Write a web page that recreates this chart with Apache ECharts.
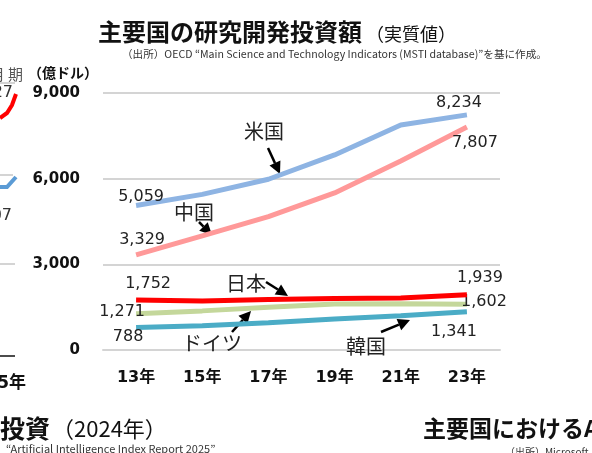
<!DOCTYPE html>
<html><head><meta charset="utf-8">
<script src="https://cdn.jsdelivr.net/npm/echarts@6/dist/echarts.min.js"></script>
<style>html,body{margin:0;padding:0;background:#fff}#c{width:592px;height:453px}</style>
</head><body><div id="c"></div>
<script>
const categories = ['13年','15年','17年','19年','21年','23年'];
const usValues      = [5059, 5450, 5980, 6830, 7880, 8234];
const chinaValues   = [3329, 4000, 4670, 5500, 6620, 7807];
const japanValues   = [1752, 1720, 1770, 1800, 1820, 1939];
const germanyValues = [1271, 1370, 1500, 1610, 1620, 1602];
const koreaValues   = [788, 850, 955, 1085, 1200, 1341];
const seriesNames = ['米国','中国','日本','ドイツ','韓国'];
const yMin = 0, yMax = 9000, yStep = 3000;

const NUM = "'DejaVu Sans','Noto Sans CJK JP'";
const JP = "'Noto Sans CJK JP','DejaVu Sans'";

function line(name, values, color, firstOff, lastOff, z){
  const last = values.length - 1;
  return {
    name, type:'line', data: values,
    symbol:'circle', symbolSize:2, showSymbol:true, z,
    itemStyle:{color:'rgba(0,0,0,0)', borderWidth:0},
    lineStyle:{color, width:5},
    label:{show:true, position:'inside', align:'center', verticalAlign:'middle',
      color:'#222', fontFamily:NUM, fontSize:16,
      formatter:p=>(p.dataIndex===0||p.dataIndex===last)?Number(p.value).toLocaleString('en-US'):''},
    labelLayout:p=>{
      const o = p.dataIndex===0 ? firstOff : (p.dataIndex===last ? lastOff : [0,0]);
      return {dx:o[0], dy:o[1], hideOverlap:false};
    },
    emphasis:{disabled:true}, animation:false
  };
}
function arrow(x1,y1,x2,y2){
  const dx=x2-x1, dy=y2-y1, L=Math.hypot(dx,dy), ux=dx/L, uy=dy/L;
  const hl=12, hw=6;
  const bx=x2-ux*hl, by=y2-uy*hl;
  return {type:'group', z:20, children:[
    {type:'line', shape:{x1,y1,x2:bx,y2:by}, style:{stroke:'#000', lineWidth:2.5}},
    {type:'polygon', shape:{points:[[x2,y2],[bx-uy*hw,by+ux*hw],[bx+uy*hw,by-ux*hw]]}, style:{fill:'#000'}}
  ]};
}
function txt(text,x,y,opts){
  return {type:'text', x, y, z:20, style:Object.assign({text, fill:'#222', font:"20px "+JP, textAlign:'center', textVerticalAlign:'middle'}, opts||{})};
}

const chart = echarts.init(document.getElementById('c'), null, {renderer:'canvas'});
chart.setOption({
  backgroundColor:'#fff',
  animation:false,
  grid:{left:103, right:92, top:93, bottom:103},
  xAxis:{type:'category', data:categories, boundaryGap:true,
    axisLine:{show:true, lineStyle:{color:'#d4d4d4', width:2}}, axisTick:{show:false},
    axisLabel:{color:'#111', fontFamily:NUM, fontWeight:'bold', fontSize:16, margin:20}},
  yAxis:{type:'value', min:yMin, max:yMax, interval:yStep,
    axisLine:{show:false}, axisTick:{show:false},
    splitLine:{lineStyle:{color:'#d4d4d4', width:2}},
    axisLabel:{color:'#111', fontFamily:NUM, fontWeight:'bold', fontSize:15, margin:23,
      formatter:v=>Number(v).toLocaleString('en-US')}},
  series:[
    line(seriesNames[4], koreaValues, '#4BACC6', [-8,9], [-13,20], 2),
    line(seriesNames[3], germanyValues, '#C4D79B', [-14,-2], [17,-2], 3),
    line(seriesNames[2], japanValues, '#FF0000', [12,-16], [13,-17], 4),
    line(seriesNames[1], chinaValues, '#FF9999', [6,-15], [8,16], 5),
    line(seriesNames[0], usValues, '#8EB4E3', [5,-9], [-8,-12], 6)
  ],
  graphic:[
    txt('主要国の研究開発投資額', 98, 32, {font:"bold 24px "+JP, textAlign:'left', fill:'#111'}),
    txt('（実質値）', 366, 34, {font:"18px "+JP, textAlign:'left', fill:'#111'}),
    txt('（出所）OECD “Main Science and Technology Indicators (MSTI database)”を基に作成。', 122, 54, {font:"10.6px "+JP, textAlign:'left', fill:'#333'}),
    txt('（億ドル）', 28, 73, {font:"bold 14px "+JP, textAlign:'left', fill:'#111'}),
    // annotations
    txt('米国', 264, 131), arrow(268,148,280,174),
    txt('中国', 194, 212), arrow(199,222,212,235),
    txt('日本', 246, 283), arrow(266,282,288,296),
    txt('ドイツ', 212, 343), arrow(232,332,251,311),
    txt('韓国', 366, 346), arrow(381,332,410,320),
    // neighbouring fragments (left)
    txt('月 期', 23, 74, {font:"15px "+JP, textAlign:'right', fill:'#555'}),
    {type:'line', shape:{x1:0,y1:83,x2:15,y2:83}, style:{stroke:'#d4d4d4', lineWidth:2}},
    txt('27', 13, 93, {font:"16px "+NUM, textAlign:'right', fill:'#333'}),
    {type:'polyline', shape:{points:[[0,118],[7,113],[12,105],[16,94]]}, style:{stroke:'#FF0000', lineWidth:4, fill:null}},
    {type:'line', shape:{x1:0,y1:175,x2:13,y2:175}, style:{stroke:'#d4d4d4', lineWidth:2}},
    {type:'polyline', shape:{points:[[0,187],[7,187],[16,177]]}, style:{stroke:'#5B9BD5', lineWidth:4, fill:null}},
    txt('07', 12, 216, {font:"16px "+NUM, textAlign:'right', fill:'#333'}),
    {type:'line', shape:{x1:0,y1:264,x2:15,y2:264}, style:{stroke:'#d4d4d4', lineWidth:2}},
    {type:'line', shape:{x1:0,y1:356,x2:15,y2:356}, style:{stroke:'#111', lineWidth:1.5}},
    txt('5年', 26, 384, {font:"bold 17px "+NUM, textAlign:'right', fill:'#111'}),
    // bottom fragments
    txt('投資', 0, 428, {font:"bold 25px "+JP, textAlign:'left', fill:'#111'}),
    txt('（2024年）', 52, 429, {font:"22px "+JP, textAlign:'left', fill:'#111'}),
    txt('“Artificial Intelligence Index Report 2025”', 6, 449, {font:"11px "+JP, textAlign:'left', fill:'#333'}),
    txt('主要国におけるA', 423, 428, {font:"bold 23px "+JP, textAlign:'left', fill:'#111'}),
    txt('（出所）Microsoft「', 505, 452, {font:"10px "+JP, textAlign:'left', fill:'#333'})
  ]
});
</script></body></html>
